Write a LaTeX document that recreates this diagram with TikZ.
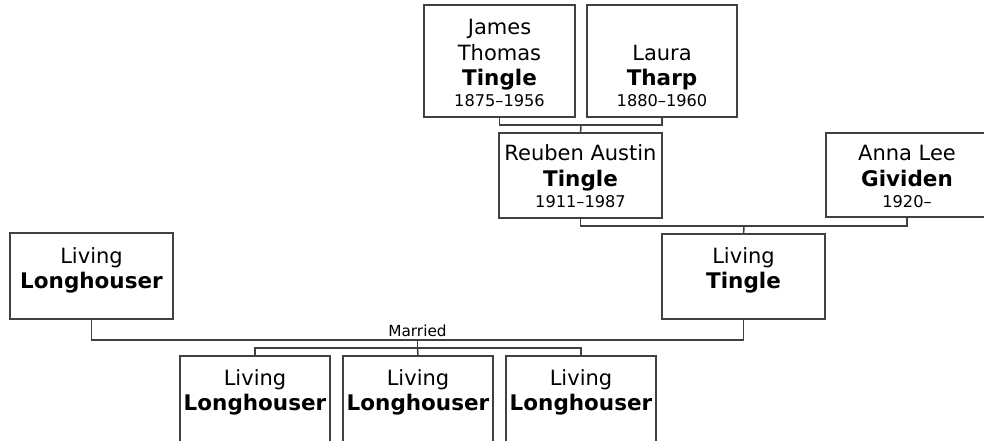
\documentclass[tikz,border=0pt]{standalone}
\usepackage{fontspec}
\setmainfont{DejaVu Sans}
\begin{document}
\begin{tikzpicture}[x=1pt,y=-1pt,
  line/.style={draw=black!75, line width=1.6pt},
  pbox/.style={line, fill=white, inner sep=0pt, outer sep=0pt, anchor=north west},
  tall/.style={pbox, minimum height=112pt},
  short/.style={pbox, minimum height=85pt},
  given/.style={anchor=base, inner sep=0pt, font=\fontsize{21}{25}\selectfont},
  surname/.style={anchor=base, inner sep=0pt, font=\fontsize{21.5}{25}\selectfont\bfseries},
  dates/.style={anchor=base, inner sep=0pt, font=\fontsize{16.2}{19}\selectfont},
  lbl/.style={anchor=base, inner sep=0pt, font=\fontsize{15.3}{18}\selectfont}]
\useasboundingbox (0,0) rectangle (984,441);
\clip (0,0) rectangle (984,441);

% boxes
\node[tall, minimum width=151pt] (james) at (424,5) {};
\node[tall, minimum width=150pt] (laura) at (587,5) {};
\node[short, minimum width=163pt] (reuben) at (499,133) {};
\node[short, minimum width=162pt, minimum height=84pt] (anna) at (826,133) {};
\node[short, minimum width=163pt] (ltingle) at (662,234) {};
\node[short, minimum width=163pt, minimum height=86pt] (llong) at (10,233) {};
\node[short, minimum width=150pt, minimum height=95pt] (kid1) at (180,356) {};
\node[short, minimum width=150pt, minimum height=95pt] (kid2) at (343,356) {};
\node[short, minimum width=150pt, minimum height=95pt] (kid3) at (506,356) {};

% texts
\node[given] (james1) at (499.5,35) {James};
\node[given] (james2) at (499.5,60.5) {Thomas};
\node[surname] (james3) at (499.5,86) {Tingle};
\node[dates] (james4) at (499.5,106.7) {1875–1956};

\node[given] (laura1) at (662,60.5) {Laura};
\node[surname] (laura2) at (662,86) {Tharp};
\node[dates] (laura3) at (662,106.7) {1880–1960};

\node[given] (reuben1) at (580.5,160) {Reuben Austin};
\node[surname] (reuben2) at (580.5,186) {Tingle};
\node[dates] (reuben3) at (580.5,207) {1911–1987};

\node[given] (anna1) at (907,160.5) {Anna Lee};
\node[surname] (anna2) at (907,186) {Gividen};
\node[dates] (anna3) at (907,207) {1920–};

\node[given] (ltingle1) at (743.5,263) {Living};
\node[surname] (ltingle2) at (743.5,288.5) {Tingle};

\node[given] (llong1) at (91.5,263) {Living};
\node[surname] (llong2) at (91.5,288.5) {Longhouser};

\node[given] (kid1a) at (255,385) {Living};
\node[surname] (kid1b) at (255,410.7) {Longhouser};
\node[given] (kid2a) at (418,385) {Living};
\node[surname] (kid2b) at (418,410.7) {Longhouser};
\node[given] (kid3a) at (581,385) {Living};
\node[surname] (kid3b) at (581,410.7) {Longhouser};

\node[lbl] (married) at (417.5,336) {Married};

% connectors
\coordinate (c1) at (581,125);
\draw[line] (james.south) |- (c1) -| (laura.south);
\draw[line] (c1) -- (reuben.north);

\coordinate (c2) at (744,226);
\draw[line] (reuben.south) |- (c2) -| (anna.south);
\draw[line] (c2) -- (ltingle.north);

\coordinate (c3) at (417.5,340);
\coordinate (c4) at (417.5,348);
\draw[line] (llong.south) |- (c3) -| (ltingle.south);
\draw[line] (c3) -- (c4);
\draw[line] (kid1.north) |- (c4) -| (kid3.north);
\draw[line] (c4) -- (kid2.north);
\end{tikzpicture}
\end{document}
